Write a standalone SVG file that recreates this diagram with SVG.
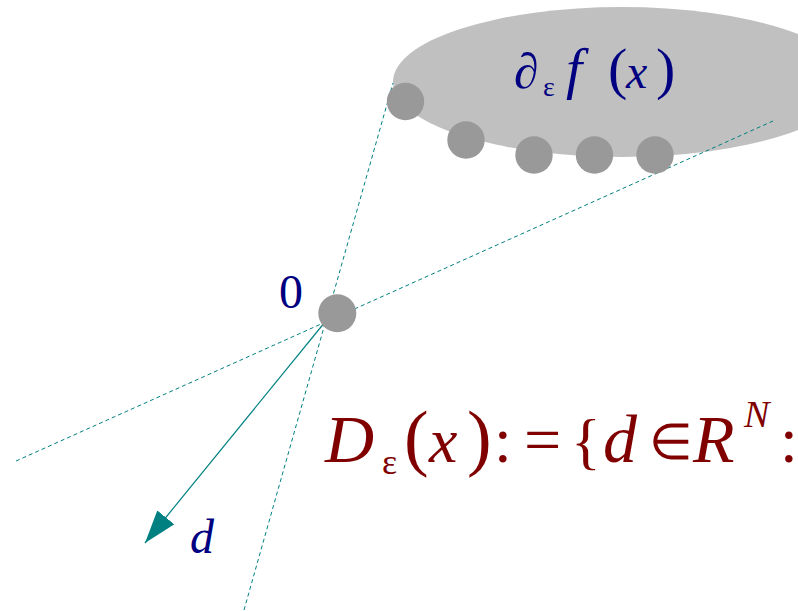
<svg xmlns="http://www.w3.org/2000/svg" width="798" height="611" viewBox="0 0 798 611">
<defs>
<style>
.dash{stroke:#008080;stroke-width:1;stroke-dasharray:4,3;fill:none}
.pt{fill:#999999}
.m{font-family:"Liberation Serif","Times New Roman",serif}
.it{font-style:italic}
.blue{fill:#000080}
.red{fill:#800000}
</style>
<marker id="ah" markerWidth="34" markerHeight="24" refX="33" refY="12" orient="auto" markerUnits="userSpaceOnUse">
<path d="M0,1 L33,12 L0,23 Z" fill="#008080"/>
</marker>
</defs>
<rect width="798" height="611" fill="#ffffff"/>
<g id="set">
<ellipse cx="622" cy="82" rx="229" ry="75" fill="#c0c0c0"/>
<g class="m blue">
<text x="514" y="88" font-size="50">∂</text>
<text x="543" y="96" font-size="28">ε</text>
<text x="566" y="88" font-size="58" class="it">f</text>
<text x="608" y="88" font-size="58">(</text>
<text x="626" y="88" font-size="48" class="it">x</text>
<text x="656" y="88" font-size="58">)</text>
</g>
</g>
<g id="connectors">
<line class="dash" x1="16" y1="461" x2="773" y2="121"/>
<line class="dash" x1="244" y1="610" x2="393" y2="83"/>
<line x1="325" y1="322" x2="145" y2="543" stroke="#008080" stroke-width="1.2" marker-end="url(#ah)"/>
</g>
<g id="points">
<circle class="pt" cx="405.5" cy="101.5" r="18.7"/>
<circle class="pt" cx="466" cy="140" r="18.7"/>
<circle class="pt" cx="534" cy="155" r="18.7"/>
<circle class="pt" cx="594.5" cy="155" r="18.7"/>
<circle class="pt" cx="655" cy="155" r="18.7"/>
</g>
<g id="origin">
<circle class="pt" cx="337.3" cy="313.3" r="19"/>
<text class="m blue" x="279" y="308" font-size="48">0</text>
</g>
<g id="d-label">
<text class="m blue it" x="190" y="553" font-size="48">d</text>
</g>
<g id="formula" class="m red">
<text x="325" y="462" font-size="68" class="it">D</text>
<text x="382" y="474" font-size="36">ε</text>
<text x="404" y="462" font-size="74">(</text>
<text x="429" y="462" font-size="64" class="it">x</text>
<text x="467" y="462" font-size="74">)</text>
<text x="494" y="462" font-size="64">:</text>
<text x="524" y="462" font-size="66">=</text>
<text x="571" y="462" font-size="62">{</text>
<text x="603" y="462" font-size="68" class="it">d</text>
<text x="649" y="459" font-size="50">∈</text>
<text x="693" y="462" font-size="68" class="it">R</text>
<text x="744" y="427" font-size="38" class="it">N</text>
<text x="780" y="462" font-size="64">:</text>
</g>
</svg>
